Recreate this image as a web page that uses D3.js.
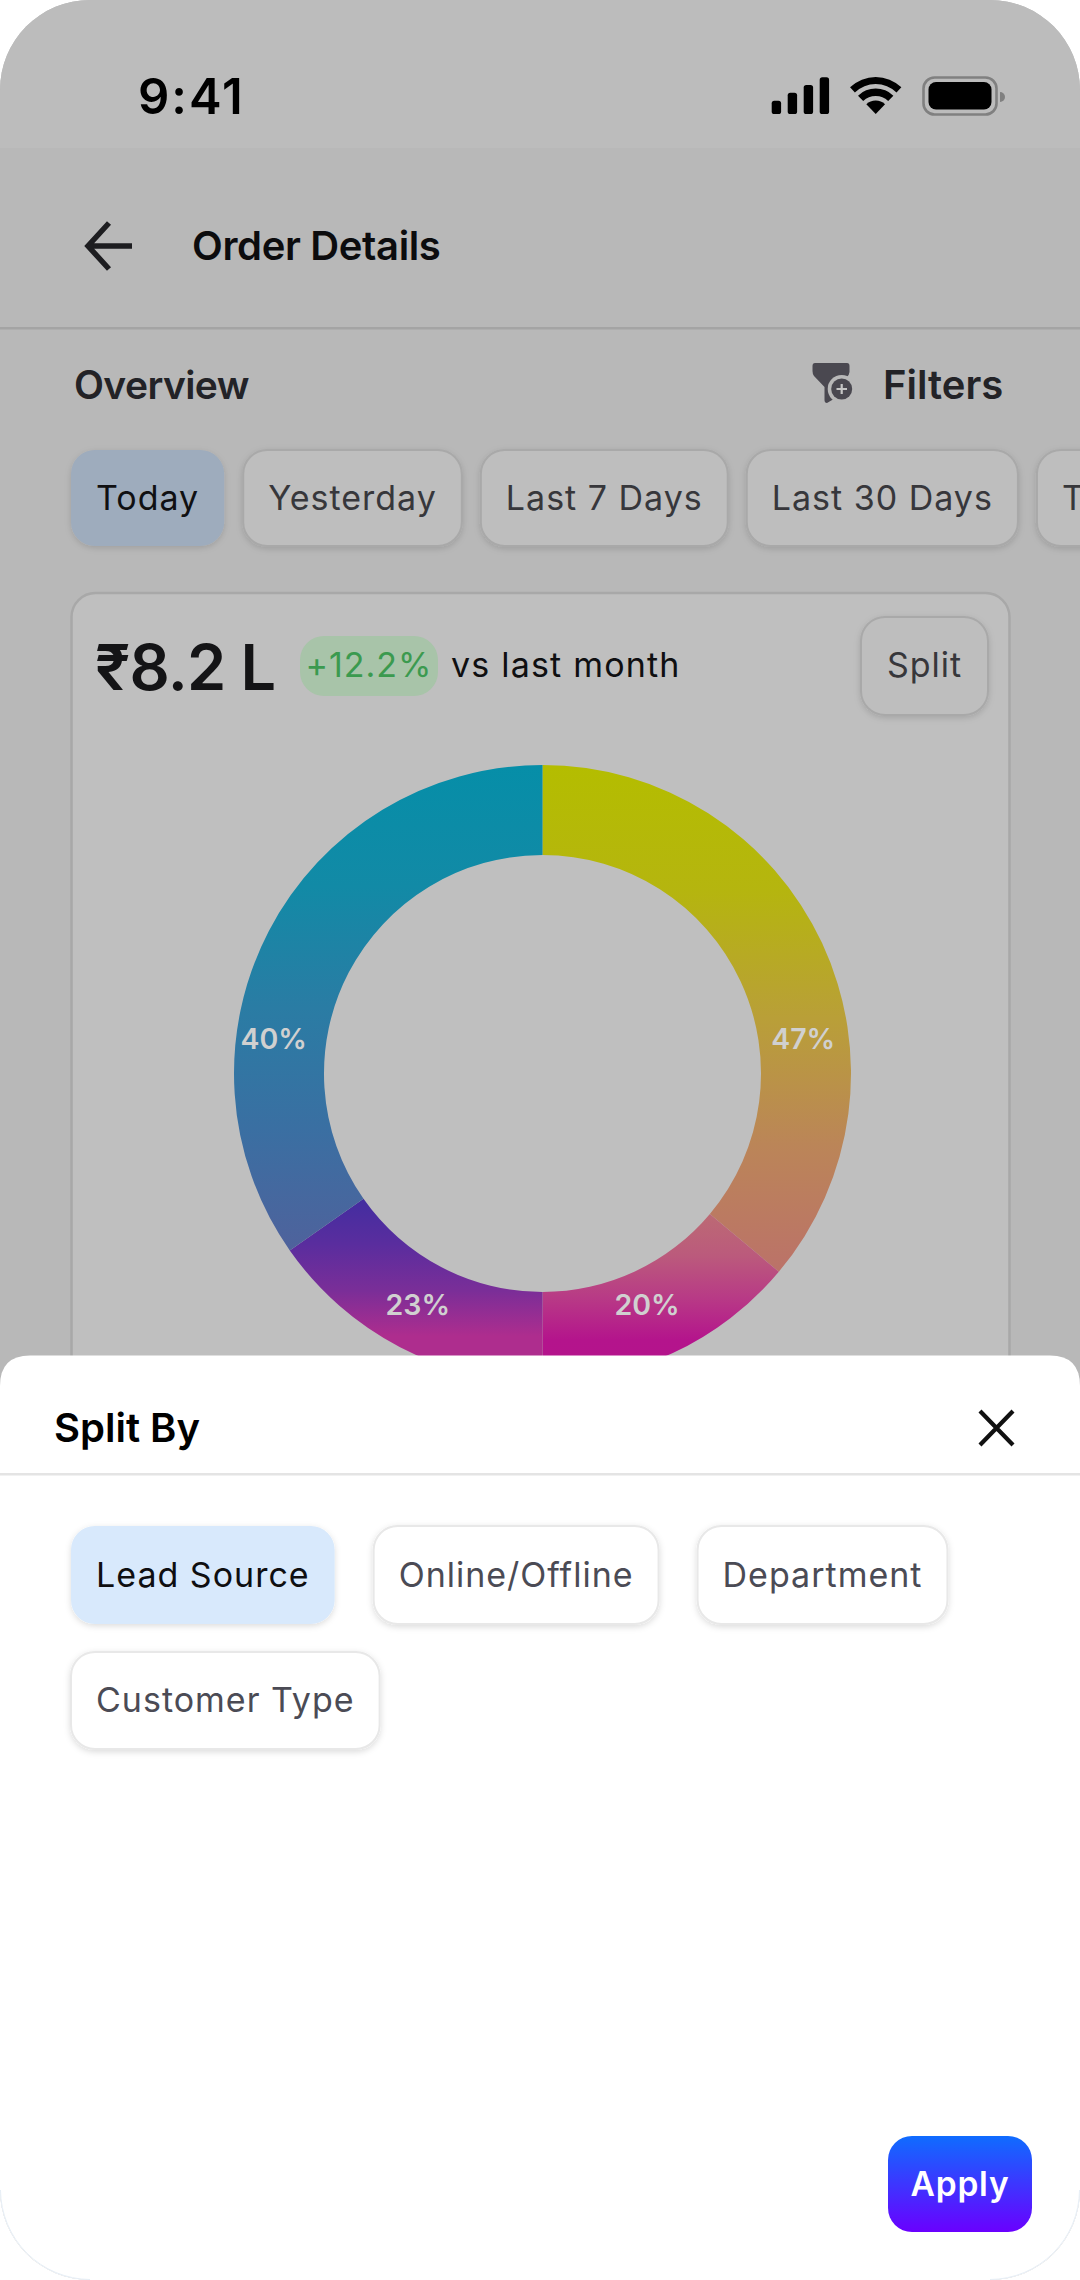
<!DOCTYPE html>
<html>
<head>
<meta charset="utf-8">
<title>Order Details</title>
<script src="https://cdn.jsdelivr.net/npm/d3@7"></script>
<style>
  html, body { margin: 0; padding: 0; background: #fff; }
  svg { display: block; }
  text { font-family: Inter, Roboto, sans-serif; }
</style>
</head>
<body>
<div id="chart"></div>
<script>
// Donut data: printed labels, and the sweep each slice really has in the picture (they differ)
const sliceLabels = ['47%', '20%', '23%', '40%'];
const sliceSweep = [130, 50, 55, 125];
const sliceStops = [
  ['#b4bd00', '#b5b50f', '#b99f38', '#bb8558', '#bb7269'],
  ['#bc6a74', '#bb5a7c', '#b83a86', '#b4148c', '#b4128c'],
  ['#432da0', '#5a2d9e', '#7a2e98', '#ae2d8e', '#ae2d8e'],
  ['#068ea8', '#128aa6', '#2a7ca4', '#3a6fa2', '#4f629c']
];
// Where the label sits on each slice: degrees clockwise from top, radius
const labelSpots = [[82.35, 263], [155.7, 254], [208.3, 263], [277.4, 271]];

const rangeChips = ['Today', 'Yesterday', 'Last 7 Days', 'Last 30 Days', 'This Month'];
const splitChips = ['Lead Source', 'Online/Offline', 'Department', 'Customer Type'];
const signalHeights = [13.3, 21.3, 29, 36.7];

const width = 1080, height = 2280;
const svg = d3.select('#chart').append('svg').attr('width', width).attr('height', height);
const defs = svg.append('defs');

defs.append('clipPath').attr('id', 'device')
  .append('rect').attr('width', width).attr('height', height).attr('rx', 90);

const softShadow = defs.append('filter').attr('id', 'chip-shadow')
  .attr('x', '-15%').attr('y', '-20%').attr('width', '130%').attr('height', '150%');
softShadow.append('feDropShadow').attr('dx', 0).attr('dy', 2).attr('stdDeviation', 3)
  .attr('flood-color', '#000').attr('flood-opacity', 0.14);

const applyGrad = defs.append('linearGradient').attr('id', 'apply-grad')
  .attr('x1', 0).attr('y1', 0).attr('x2', 0).attr('y2', 1);
applyGrad.append('stop').attr('offset', 0).attr('stop-color', '#0f6cff');
applyGrad.append('stop').attr('offset', 1).attr('stop-color', '#6a00ff');

const root = svg.append('g').attr('clip-path', 'url(#device)');

function label(parent, x, y, str, size, weight, fill, spacing, anchor) {
  return parent.append('text')
    .attr('x', x).attr('y', y)
    .attr('font-size', size).attr('font-weight', weight)
    .attr('fill', fill)
    .attr('letter-spacing', spacing || 0)
    .attr('text-anchor', anchor || 'start')
    .text(str);
}

// Dimmed page behind the sheet
root.append('rect').attr('width', width).attr('height', height).attr('fill', '#b8b8b8');
root.append('rect').attr('width', width).attr('height', 148).attr('fill', '#bcbcbc');

// Status bar
label(root, 138, 114, '9:41', 49, 600, '#000', 2);
root.selectAll('.signal').data(signalHeights).join('rect')
  .attr('class', 'signal')
  .attr('x', (d, i) => 771.7 + i * 16)
  .attr('y', d => 114 - d)
  .attr('width', 9.4).attr('height', d => d).attr('rx', 2.6).attr('fill', '#000');

const wifi = root.append('g').attr('transform', 'translate(875.7,114)');
[[0, 13.5], [18, 25.5], [30, 37]].forEach(([r0, r1]) => {
  wifi.append('path')
    .attr('d', d3.arc().innerRadius(r0).outerRadius(r1)
      .startAngle(-Math.PI / 4.1).endAngle(Math.PI / 4.1)())
    .attr('fill', '#000');
});

root.append('rect').attr('x', 923.5).attr('y', 77.5).attr('width', 73).attr('height', 37).attr('rx', 11)
  .attr('fill', 'none').attr('stroke', '#808080').attr('stroke-width', 2.6);
root.append('rect').attr('x', 928.5).attr('y', 82).attr('width', 63).attr('height', 27.5).attr('rx', 7.5).attr('fill', '#000');
root.append('path').attr('d', 'M1000,92 a5,5 0 0 1 0,10 z').attr('fill', '#808080');

// Header
root.append('path').attr('d', 'M132,246 H91 M109,223 L88,246 L109,269')
  .attr('fill', 'none').attr('stroke', '#1d1d20').attr('stroke-width', 5.5);
label(root, 192, 260, 'Order Details', 40, 600, '#0c0c0e', -0.35);
root.append('rect').attr('y', 327).attr('width', width).attr('height', 2.5).attr('fill', '#a4a4a4');

label(root, 74, 399, 'Overview', 39, 600, '#232327', -0.6);
label(root, 883, 399, 'Filters', 40, 600, '#232327', 0);

// Filter icon
const funnel = root.append('g');
funnel.append('path')
  .attr('d', 'M815,363 H847 Q849.5,363 849.5,366 V372 Q849.5,375 846,378 L835.5,388 V398 L827,403 Q824.5,403 824.5,400 V387 L814,376 Q812.5,374 812.5,371 V366 Q812.5,363 815,363 Z')
  .attr('fill', '#4a4850');
funnel.append('circle').attr('cx', 841.7).attr('cy', 389).attr('r', 14).attr('fill', '#b8b8b8');
funnel.append('circle').attr('cx', 841.7).attr('cy', 389).attr('r', 10.5).attr('fill', '#4a4850');
funnel.append('path').attr('d', 'M836.5,389 H847 M841.7,384 V394').attr('stroke', '#c6c6c6').attr('stroke-width', 2.2);

// Chips, laid out left to right from their own text width
function chipRow(parent, items, x0, y, chipH, gap, spacing, activeIndex, fills) {
  let x = x0;
  items.forEach((item, i) => {
    const g = parent.append('g').attr('transform', `translate(${x},${y})`);
    const box = g.append('rect').attr('height', chipH).attr('rx', 24)
      .attr('fill', i === activeIndex ? fills.active : fills.idle)
      .attr('stroke', i === activeIndex ? 'none' : fills.border)
      .attr('stroke-width', 2)
      .attr('filter', 'url(#chip-shadow)');
    const t = label(g, 25, chipH / 2 + 11.5, item, 34, 400, i === activeIndex ? fills.activeText : fills.text, spacing);
    const w = t.node().getComputedTextLength() + 50;
    box.attr('width', w);
    x += w + gap;
  });
}

chipRow(root, rangeChips, 71, 450, 96, 19, 1, 0, {
  active: '#9eacbd', idle: '#bebebe', border: '#a9a9a9', activeText: '#101012', text: '#37373b'
});

// Card
root.append('rect').attr('x', 71.5).attr('y', 593).attr('width', 938).attr('height', 900).attr('rx', 24)
  .attr('fill', '#bfbfbf').attr('stroke', '#a8a8a8').attr('stroke-width', 2.5);

label(root, 95, 690, '₹8.2 L', 63, 600, '#141416', -0.8);
root.append('rect').attr('x', 300).attr('y', 636).attr('width', 138).attr('height', 60).attr('rx', 24).attr('fill', '#a8c4a9');
label(root, 369, 677, '+12.2%', 34, 400, '#3b9a4f', 1, 'middle');
label(root, 451, 677, 'vs last month', 34, 400, '#0f0f11', 1.2);

root.append('rect').attr('x', 861).attr('y', 617).attr('width', 127).attr('height', 98).attr('rx', 24)
  .attr('fill', '#bebebe').attr('stroke', '#a9a9a9').attr('stroke-width', 2)
  .attr('filter', 'url(#chip-shadow)');
label(root, 924.5, 677, 'Split', 34, 400, '#37373b', 1, 'middle');

// Donut
const cx = 542.5, cy = 1073.5, outerR = 308.5, innerR = 218.5;
const pie = d3.pie().sort(null).value(d => d);
const arc = d3.arc().innerRadius(innerR).outerRadius(outerR);
const slices = pie(sliceSweep);

slices.forEach((d, i) => {
  const grad = defs.append('linearGradient').attr('id', `slice-${i}`)
    .attr('x1', 0).attr('y1', 0).attr('x2', 0).attr('y2', 1);
  sliceStops[i].forEach((c, k, all) => {
    grad.append('stop').attr('offset', k / (all.length - 1)).attr('stop-color', c);
  });
});

const donut = root.append('g').attr('transform', `translate(${cx},${cy})`);
donut.selectAll('path').data(slices).join('path')
  .attr('d', arc)
  .attr('fill', (d, i) => `url(#slice-${i})`);

donut.selectAll('text').data(sliceLabels).join('text')
  .attr('transform', (d, i) => {
    const [deg, r] = labelSpots[i];
    const [x, y] = d3.pointRadial(deg * Math.PI / 180, r);
    return `translate(${x},${y})`;
  })
  .attr('text-anchor', 'middle').attr('dy', '0.36em')
  .attr('font-size', 28.5).attr('font-weight', 600)
  .attr('fill', '#d0d0d0')
  .text(d => d);

// Bottom sheet
const sheet = root.append('g');
sheet.append('path')
  .attr('d', `M0,${height} V1386 Q0,1355.5 30,1355.5 H${width - 30} Q${width},1355.5 ${width},1386 V${height} Z`)
  .attr('fill', '#fff');
label(sheet, 54, 1442, 'Split By', 40, 600, '#000', 0);
sheet.append('path').attr('d', 'M980,1411 L1013,1445 M1013,1411 L980,1445')
  .attr('stroke', '#111').attr('stroke-width', 4.2).attr('fill', 'none');
sheet.append('rect').attr('y', 1473).attr('width', width).attr('height', 2.5).attr('fill', '#e4e4e4');

const sheetFills = { active: '#d8e9fc', idle: '#fff', border: '#e8e8e8', activeText: '#0f0f11', text: '#4b4b55' };
chipRow(sheet, splitChips.slice(0, 3), 71, 1526, 98, 39, 1, 0, sheetFills);
chipRow(sheet, splitChips.slice(3), 71, 1652, 97, 39, 1, -1, sheetFills);

sheet.append('rect').attr('x', 888).attr('y', 2136).attr('width', 144).attr('height', 96).attr('rx', 24)
  .attr('fill', 'url(#apply-grad)');
label(sheet, 960, 2196, 'Apply', 33.5, 600, '#fff', 0.8, 'middle');

// Faint edge of the device at the bottom corners
svg.append('path').attr('d', `M0.5,${height - 90} A90,90 0 0 0 90,${height - 0.5} M${width - 90},${height - 0.5} A90,90 0 0 0 ${width - 0.5},${height - 90}`)
  .attr('fill', 'none').attr('stroke', '#e6eef6').attr('stroke-width', 1);
</script>
</body>
</html>
